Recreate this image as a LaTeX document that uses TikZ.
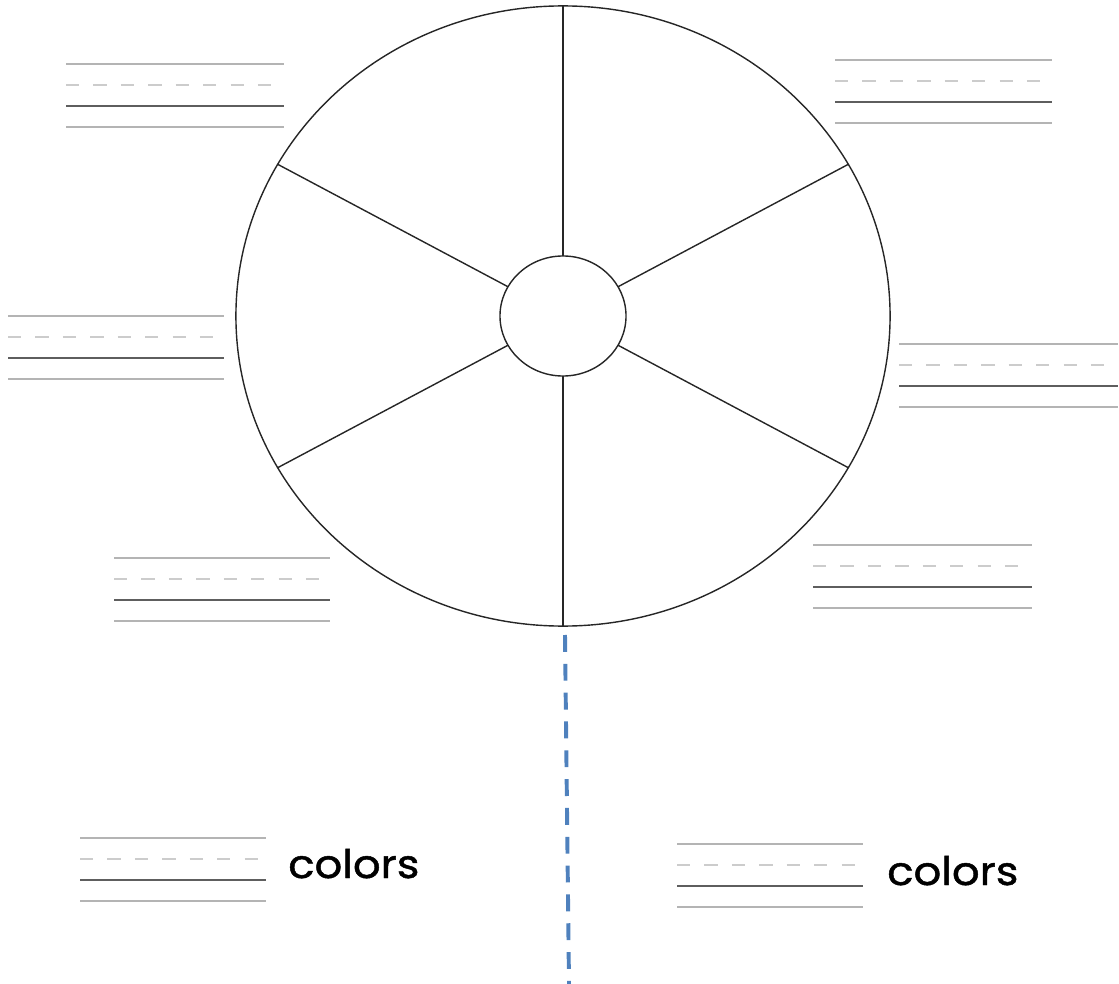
\documentclass[tikz,border=0pt]{standalone}
\usepackage{fontspec}
\usepackage{tikz}
\usetikzlibrary{shapes.geometric}
\newfontfamily\labelfont[FakeBold=1.2, FakeStretch=1.1]{Poppins}
\definecolor{guidegray}{HTML}{B4B4B4}
\definecolor{dashgray}{HTML}{CCCCCC}
\definecolor{basegray}{HTML}{5E5E5E}
\definecolor{splitblue}{RGB}{79,129,189}
\tikzset{
  ring/.style={ellipse, draw=black!85, line width=1pt, inner sep=0pt, outer sep=0pt},
  spoke/.style={draw=black!85, line width=1pt},
  guide/.style={draw=guidegray, line width=0.9pt},
  midguide/.style={draw=dashgray, line width=0.9pt, dash pattern=on 9.5pt off 10pt},
  baseguide/.style={draw=basegray, line width=1.7pt},
  split/.style={draw=splitblue, line width=2.8pt, dash pattern=on 12pt off 8.5pt},
  word/.style={font=\labelfont\fontsize{28}{30}\selectfont, inner sep=0pt, anchor=base west},
  pics/writelines/.style={code={
    \draw[guide] (0,0) -- (#1,0);
    \draw[midguide] (0,21) -- (#1,21);
    \draw[baseguide] (0,42) -- (#1,42);
    \draw[guide] (0,63) -- (#1,63);
  }},
}
\begin{document}
\begin{tikzpicture}[x=0.025cm, y=-0.025cm]
  \useasboundingbox (0,0) rectangle (1119,984);
  % wheel
  \node[ring, minimum width=16.35cm, minimum height=15.5cm] (rim) at (563,316) {};
  \node[ring, minimum width=3.15cm, minimum height=3cm] (hub) at (563,316) {};
  \foreach \a in {90,28,152,208,270,332}
    \draw[spoke] (hub.\a) -- (rim.\a);
  % writing lines round the wheel
  \pic at (66,64) {writelines=218};
  \pic at (835,60) {writelines=217};
  \pic at (8,316) {writelines=216};
  \pic at (899,344) {writelines=219};
  \pic at (114,558) {writelines=216};
  \pic at (813,545) {writelines=219};
  % lower part
  \coordinate (s1) at (565,635);
  \coordinate (s2) at (569,984);
  \draw[split] (s1) -- (s2);
  \pic at (80,838) {writelines=186};
  \node[word] (w1) at (288,878) {colors};
  \pic at (677,844) {writelines=186};
  \node[word] (w2) at (887,885) {colors};
\end{tikzpicture}
\end{document}
